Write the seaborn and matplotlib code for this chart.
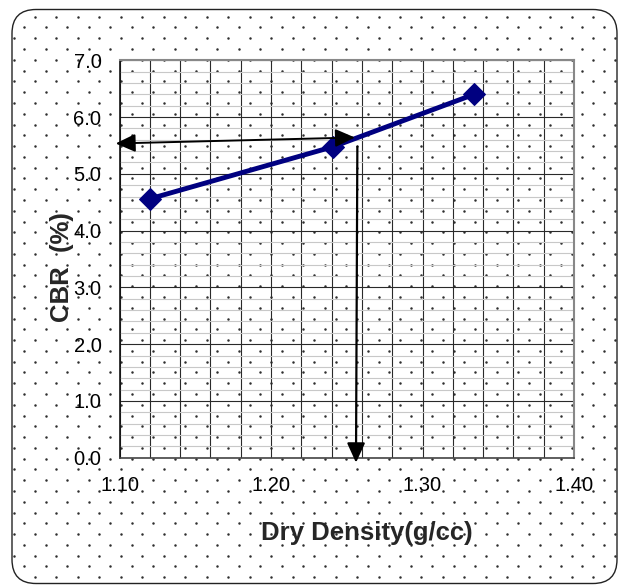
import numpy as np
import pandas as pd
import matplotlib
matplotlib.use("Agg")
import matplotlib.pyplot as plt
from matplotlib.patches import FancyBboxPatch, FancyArrowPatch
from matplotlib.ticker import MultipleLocator
import seaborn as sns

# ---- data ----
dry_density = [1.12, 1.241, 1.334]
cbr_values = [4.56, 5.478, 6.40]
x_ticks = [1.10, 1.20, 1.30, 1.40]
x_tick_labels = ["1.10", "1.20", "1.30", "1.40"]
y_ticks = [0.0, 1.0, 2.0, 3.0, 4.0, 5.0, 6.0, 7.0]
y_tick_labels = ["0.0", "1.0", "2.0", "3.0", "4.0", "5.0", "6.0", "7.0"]
# reading arrows (data coords): from point on curve to the axes
h_arrow_start = (1.2554, 5.64)
h_arrow_end = (1.0975, 5.535)
v_arrow_start = (1.2570, 5.478)
v_arrow_end = (1.2561, -0.088)

sns.set_style("white")
plt.rcParams["font.family"] = ["Liberation Sans", "DejaVu Sans"]

W, H = 619, 585
fig = plt.figure(figsize=(W / 100, H / 100), dpi=100)

# ---- background with rounded border and dot pattern ----
bg = fig.add_axes([0, 0, 1, 1])
bg.set_xlim(0, W)
bg.set_ylim(H, 0)
bg.axis("off")
box = FancyBboxPatch((12, 9.5), 605, 574, boxstyle="round,pad=0,rounding_size=24",
                     facecolor="white", edgecolor="#222222", linewidth=1.0, zorder=0)
bg.add_patch(box)
dx, dy = 21.47, 10.78
x0, y0 = 35.0, 16.7
px, py = [], []
for r in range(-2, 56):
    yy = y0 + r * dy
    off = (r % 2) * dx / 2
    for k in range(-2, 31):
        px.append(x0 + off + k * dx)
        py.append(yy)
dots = bg.scatter(px, py, s=3.2, color="#2e2e2e", linewidths=0, zorder=1)
dots.set_clip_path(box)

# ---- main axes ----
ax = fig.add_axes([119.5 / W, 1 - 457.7 / H, (574 - 119.5) / W, (457.7 - 60.3) / H])
ax.set_facecolor("none")
ax.set_xlim(1.10, 1.40)
ax.set_ylim(0, 7.0)

# grid
ax.yaxis.set_minor_locator(MultipleLocator(0.2))
ax.xaxis.set_minor_locator(MultipleLocator(0.02))
ax.grid(which="minor", axis="y", color="#c8c8c8", linewidth=0.8, zorder=0)
ax.grid(which="major", axis="y", color="#2a2a2a", linewidth=0.8, zorder=0.5)
ax.grid(which="both", axis="x", color="#2a2a2a", linewidth=0.8, zorder=0.5)
ax.set_axisbelow(True)

df = pd.DataFrame({"Dry Density": dry_density, "CBR": cbr_values})
sns.lineplot(data=df, x="Dry Density", y="CBR", ax=ax, color="#000080",
             linewidth=3.5, marker="D", markersize=11, markeredgecolor="#000080",
             zorder=3)

ax.set_xticks(x_ticks)
ax.set_xticklabels(x_tick_labels)
ax.set_yticks(y_ticks)
ax.set_yticklabels(y_tick_labels)
ax.tick_params(axis="both", which="major", direction="out", length=4, width=1,
               color="#333333", labelsize=14.5, labelcolor="black")
ax.tick_params(axis="x", pad=9)
ax.tick_params(axis="y", pad=9)
ax.tick_params(which="minor", length=0)

for side in ["top", "right"]:
    ax.spines[side].set_color("#888888")
    ax.spines[side].set_linewidth(1.5)
ax.spines["left"].set_color("#111111")
ax.spines["left"].set_linewidth(1.2)
ax.spines["bottom"].set_color("#444444")
ax.spines["bottom"].set_linewidth(1.2)

ax.set_xlabel("Dry Density(g/cc)", fontsize=18.5, fontweight="bold")
ax.set_ylabel("CBR  (%)", fontsize=18.5, fontweight="bold")
ax.xaxis.set_label_coords((367 - 119.5) / 454.5, (457.7 - 533) / 397.4)
ax.xaxis.label.set_va("center")
ax.xaxis.label.set_ha("center")
ax.yaxis.set_label_coords((62 - 119.5) / 454.5, (457.7 - 267.5) / 397.4)
ax.yaxis.label.set_va("center")
ax.yaxis.label.set_ha("center")

# arrows
ha = FancyArrowPatch(h_arrow_start, h_arrow_end, arrowstyle="<|-|>,head_length=1.2,head_width=0.55",
                     mutation_scale=10, color="black", linewidth=1.4, clip_on=False, zorder=5,
                     shrinkA=0, shrinkB=0)
ax.add_patch(ha)
va_ = FancyArrowPatch(v_arrow_start, v_arrow_end, arrowstyle="-|>,head_length=1.2,head_width=0.55",
                      mutation_scale=10, color="black", linewidth=1.6, clip_on=False, zorder=5,
                      shrinkA=0, shrinkB=0)
ax.add_patch(va_)

fig.savefig("out.png", dpi=100)
